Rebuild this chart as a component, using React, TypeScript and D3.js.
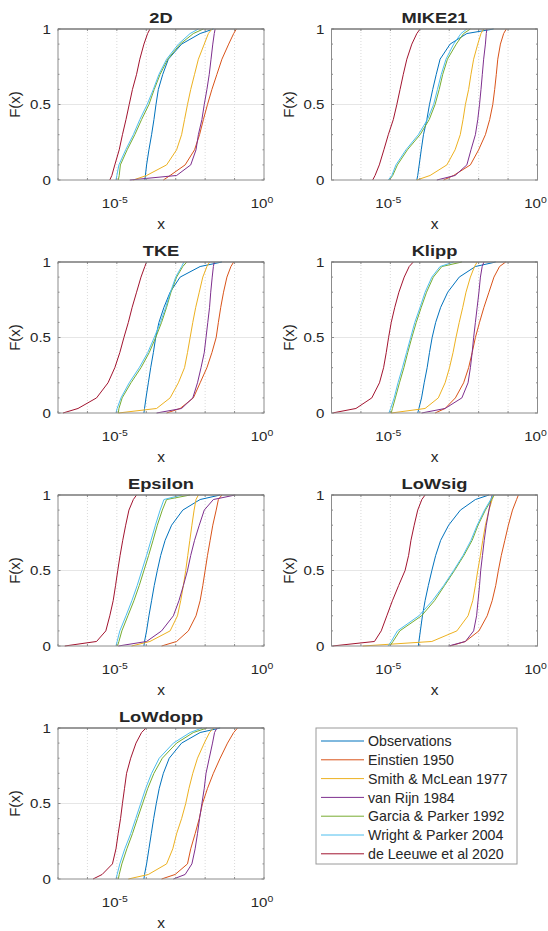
import React from "react";
import * as d3 from "d3";

// ---------- data ----------
const LEVELS = [0, 0.03, 0.1, 0.2, 0.3, 0.4, 0.5, 0.6, 0.7, 0.8, 0.9, 0.97, 1];

const SERIES = [
  "Observations",
  "Einstien 1950",
  "Smith & McLean 1977",
  "van Rijn 1984",
  "Garcia & Parker 1992",
  "Wright & Parker 2004",
  "de Leeuwe et al 2020",
];
const COLORS = ["#0072BD", "#D95319", "#EDB120", "#7E2F8E", "#77AC30", "#4DBEEE", "#A2142F"];

const PANELS = ["2D", "MIKE21", "TKE", "Klipp", "Epsilon", "LoWsig", "LoWdopp"];

// log10(x) at each level in LEVELS, series order as SERIES
const D_2D = [
  [-4.05, -4.03, -3.99, -3.91, -3.82, -3.74, -3.67, -3.59, -3.44, -3.25, -2.8, -2.17, -1.72],
  [-3.42, -3.19, -2.68, -2.36, -2.19, -2.06, -1.92, -1.77, -1.6, -1.43, -1.2, -1.03, -0.94],
  [-4.44, -3.99, -3.31, -2.97, -2.8, -2.7, -2.6, -2.49, -2.36, -2.23, -2.03, -1.89, -1.77],
  [-4.56, -2.97, -2.49, -2.31, -2.23, -2.11, -2.03, -1.94, -1.86, -1.8, -1.74, -1.69, -1.66],
  [-4.95, -4.92, -4.88, -4.65, -4.39, -4.16, -3.91, -3.73, -3.53, -3.27, -2.85, -2.4, -2.06],
  [-5.03, -5.0, -4.93, -4.7, -4.44, -4.22, -3.97, -3.76, -3.57, -3.31, -2.91, -2.51, -2.23],
  [-5.24, -5.17, -5.07, -4.92, -4.81, -4.69, -4.58, -4.47, -4.33, -4.22, -4.08, -3.955, -3.875],
];
const D_MIKE21 = [
  [-4.1, -4.07, -4.02, -3.95, -3.875, -3.76, -3.67, -3.56, -3.44, -3.31, -2.97, -2.4, -1.49],
  [-3.19, -2.85, -2.28, -2.0, -1.77, -1.625, -1.52, -1.455, -1.4, -1.35, -1.26, -1.15, -1.06],
  [-4.1, -3.65, -3.08, -2.8, -2.625, -2.53, -2.45, -2.34, -2.26, -2.17, -2.03, -1.92, -1.83],
  [-3.42, -2.8, -2.4, -2.26, -2.11, -2.03, -1.97, -1.92, -1.875, -1.83, -1.77, -1.74, -1.72],
  [-5.03, -4.92, -4.76, -4.42, -3.99, -3.68, -3.48, -3.34, -3.22, -3.06, -2.76, -2.51, -2.28],
  [-5.07, -4.95, -4.81, -4.47, -4.05, -3.74, -3.53, -3.4, -3.27, -3.11, -2.85, -2.6, -2.4],
  [-5.6, -5.52, -5.375, -5.22, -5.07, -4.9, -4.78, -4.67, -4.56, -4.44, -4.27, -4.1, -3.99],
];
const D_TKE = [
  [-4.08, -4.06, -4.01, -3.93, -3.85, -3.76, -3.68, -3.57, -3.4, -3.19, -2.85, -2.17, -1.43],
  [-3.31, -2.85, -2.4, -2.17, -1.94, -1.77, -1.625, -1.55, -1.47, -1.375, -1.26, -1.125, -1.03],
  [-4.95, -3.65, -3.19, -2.91, -2.7, -2.6, -2.51, -2.42, -2.32, -2.2, -2.08, -1.94, -1.85],
  [-3.65, -2.8, -2.42, -2.26, -2.14, -2.03, -1.97, -1.91, -1.85, -1.81, -1.76, -1.72, -1.69],
  [-4.95, -4.93, -4.82, -4.52, -4.18, -3.9, -3.68, -3.48, -3.31, -3.16, -2.97, -2.76, -2.625],
  [-5.03, -4.99, -4.86, -4.58, -4.24, -3.95, -3.73, -3.52, -3.34, -3.18, -3.0, -2.8, -2.72],
  [-6.83, -6.32, -5.69, -5.3, -5.07, -4.9, -4.76, -4.61, -4.48, -4.33, -4.18, -4.05, -3.99],
];
const D_KLIPP = [
  [-4.07, -4.03, -3.94, -3.85, -3.75, -3.67, -3.58, -3.46, -3.29, -3.05, -2.66, -2.11, -1.42],
  [-3.48, -3.14, -2.79, -2.51, -2.34, -2.22, -2.11, -1.97, -1.82, -1.65, -1.48, -1.29, -1.08],
  [-4.97, -3.82, -3.37, -3.14, -2.99, -2.87, -2.77, -2.66, -2.54, -2.43, -2.28, -2.14, -2.05],
  [-3.94, -3.14, -2.57, -2.36, -2.28, -2.22, -2.17, -2.11, -2.05, -1.99, -1.94, -1.88, -1.82],
  [-4.97, -4.93, -4.83, -4.69, -4.54, -4.41, -4.27, -4.12, -3.95, -3.77, -3.54, -3.25, -2.57],
  [-5.05, -4.99, -4.87, -4.74, -4.59, -4.45, -4.31, -4.17, -3.99, -3.82, -3.59, -3.31, -2.85],
  [-6.97, -6.17, -5.63, -5.37, -5.23, -5.14, -5.06, -4.97, -4.85, -4.71, -4.53, -4.36, -4.22],
];
const D_EPSILON = [
  [-4.08, -4.06, -3.99, -3.91, -3.82, -3.73, -3.625, -3.51, -3.36, -3.14, -2.76, -2.17, -1.49],
  [-3.48, -2.97, -2.57, -2.31, -2.17, -2.08, -2.0, -1.92, -1.83, -1.74, -1.625, -1.55, -1.43],
  [-4.5, -3.875, -3.19, -2.94, -2.83, -2.74, -2.66, -2.59, -2.52, -2.45, -2.375, -2.31, -2.23],
  [-4.95, -3.99, -3.48, -3.08, -2.89, -2.74, -2.6, -2.49, -2.36, -2.2, -2.03, -1.72, -0.98],
  [-4.98, -4.93, -4.83, -4.625, -4.42, -4.24, -4.08, -3.92, -3.77, -3.625, -3.455, -3.31, -2.51],
  [-5.03, -4.99, -4.9, -4.69, -4.49, -4.31, -4.15, -3.99, -3.84, -3.69, -3.53, -3.4, -2.8],
  [-6.77, -5.69, -5.375, -5.24, -5.125, -5.045, -4.97, -4.89, -4.8, -4.7, -4.59, -4.44, -4.33],
];
const D_LOWSIG = [
  [-4.05, -4.03, -3.98, -3.91, -3.82, -3.71, -3.59, -3.46, -3.29, -3.02, -2.62, -2.11, -1.65],
  [-2.97, -2.45, -1.99, -1.71, -1.54, -1.42, -1.33, -1.23, -1.11, -0.99, -0.85, -0.71, -0.65],
  [-5.94, -3.59, -2.74, -2.36, -2.2, -2.11, -2.03, -1.94, -1.86, -1.77, -1.65, -1.54, -1.48],
  [-3.02, -2.45, -2.17, -2.07, -2.02, -1.97, -1.93, -1.87, -1.81, -1.74, -1.65, -1.58, -1.54],
  [-5.02, -4.91, -4.68, -3.94, -3.5, -3.16, -2.82, -2.5, -2.22, -2.02, -1.77, -1.56, -1.48],
  [-5.08, -4.97, -4.76, -4.03, -3.57, -3.19, -2.85, -2.53, -2.26, -2.05, -1.8, -1.59, -1.51],
  [-6.97, -5.54, -5.31, -5.12, -4.93, -4.72, -4.5, -4.38, -4.3, -4.19, -4.07, -3.93, -3.82],
];
const D_LOWDOPP = [
  [-4.08, -4.06, -3.99, -3.91, -3.83, -3.75, -3.66, -3.56, -3.42, -3.22, -2.8, -2.17, -1.49],
  [-3.48, -3.02, -2.6, -2.49, -2.34, -2.2, -2.09, -1.92, -1.72, -1.49, -1.24, -1.03, -0.9],
  [-4.61, -3.93, -3.31, -3.1, -2.97, -2.8, -2.66, -2.55, -2.42, -2.26, -2.03, -1.85, -1.72],
  [-3.08, -2.68, -2.45, -2.34, -2.26, -2.19, -2.11, -2.03, -1.97, -1.86, -1.75, -1.68, -1.6],
  [-4.95, -4.92, -4.83, -4.66, -4.47, -4.3, -4.125, -3.95, -3.74, -3.455, -2.97, -2.4, -1.94],
  [-5.03, -4.99, -4.9, -4.73, -4.53, -4.36, -4.19, -4.02, -3.82, -3.56, -3.08, -2.51, -2.11],
  [-5.81, -5.5, -5.15, -5.03, -4.955, -4.875, -4.81, -4.74, -4.67, -4.53, -4.35, -4.16, -4.01],
];
const PANEL_DATA = [D_2D, D_MIKE21, D_TKE, D_KLIPP, D_EPSILON, D_LOWSIG, D_LOWDOPP];

const X_DOMAIN = [1e-7, 1];
const X_LABELED = [-5, 0];
const Y_TICKS = [0, 0.5, 1];

// ---------- layout ----------
const W = 548;
const H = 931;
const COL_X = [58, 331.5];
const ROW_Y = [29, 262, 495, 728];
const PW = 206;
const PH = 151;
const FONT = "'Liberation Sans', Arial, Helvetica, sans-serif";
const TEXT = "#262626";
const AXIS = "#8c8c8c";
const SX = 1.16; // horizontal text stretch seen in the reference

function Panel({ idx }: { idx: number }) {
  const x0 = COL_X[idx % 2];
  const y0 = ROW_Y[Math.floor(idx / 2)];
  const xs = d3.scaleLog().domain(X_DOMAIN).range([0, PW]);
  const ys = d3.scaleLinear().domain([0, 1]).range([PH, 0]);
  const line = d3
    .line<[number, number]>()
    .x((d) => xs(Math.pow(10, d[0])))
    .y((d) => ys(d[1]));
  const decades = d3.range(-6, 0).map((e) => Math.pow(10, e));
  const allDecades = d3.range(-7, 1).map((e) => Math.pow(10, e));
  const minor = d3.range(0, 11).map((i) => i / 10);
  const clipId = `clip${idx}`;
  const data = PANEL_DATA[idx];
  return (
    <g transform={`translate(${x0},${y0})`}>
      <defs>
        <clipPath id={clipId}>
          <rect x={-1} y={-1} width={PW + 2} height={PH + 2} />
        </clipPath>
      </defs>
      <rect x={0} y={0} width={PW} height={PH} fill="#fff" />
      {/* grid */}
      {decades.map((d, i) => (
        <line key={"gx" + i} x1={xs(d)} x2={xs(d)} y1={0} y2={PH} stroke="#d0d0d0" strokeWidth={0.8} strokeDasharray="1,2" />
      ))}
      <line x1={0} x2={PW} y1={ys(0.5)} y2={ys(0.5)} stroke="#e0e0e0" strokeWidth={0.8} />
      {/* curves */}
      <g clipPath={`url(#${clipId})`}>
        {data.map((s, si) => (
          <path
            key={si}
            d={line(s.map((v, k) => [v, LEVELS[k]] as [number, number])) || ""}
            fill="none"
            stroke={COLORS[si]}
            strokeWidth={1}
          />
        ))}
      </g>
      {/* ticks */}
      {minor.map((m, i) => {
        const len = i % 5 === 0 ? 2.5 : 1.5;
        return (
          <g key={"yt" + i}>
            <line x1={0} x2={len} y1={ys(m)} y2={ys(m)} stroke={AXIS} />
            <line x1={PW} x2={PW - len} y1={ys(m)} y2={ys(m)} stroke={AXIS} />
          </g>
        );
      })}
      {allDecades.map((d, i) => (
        <g key={"xt" + i}>
          <line x1={xs(d)} x2={xs(d)} y1={PH} y2={PH - 2} stroke={AXIS} />
          <line x1={xs(d)} x2={xs(d)} y1={0} y2={2} stroke={AXIS} />
        </g>
      ))}
      {/* box */}
      <rect x={0} y={0} width={PW} height={PH} fill="none" stroke={AXIS} strokeWidth={1} />
      <line x1={0} x2={PW} y1={0} y2={0} stroke="#6e6e6e" strokeWidth={1.2} />
      {/* y tick labels */}
      {Y_TICKS.map((t) => (
        <text
          key={"yl" + t}
          transform={`translate(${-7},${ys(t)}) scale(${SX},1)`}
          dy="0.35em"
          textAnchor="end"
          fontSize={13}
          fill={TEXT}
          fontFamily={FONT}
        >
          {t}
        </text>
      ))}
      {/* x tick labels */}
      {X_LABELED.map((e) => (
        <text
          key={"xl" + e}
          transform={`translate(${xs(Math.pow(10, e)) - 2},${PH + 28}) scale(${SX},1)`}
          textAnchor="middle"
          fontSize={13}
          fill={TEXT}
          fontFamily={FONT}
        >
          <tspan>10</tspan>
          <tspan dy={-5} fontSize={9}>{String(e)}</tspan>
        </text>
      ))}
      {/* labels */}
      <text x={PW / 2} y={PH + 49} textAnchor="middle" fontSize={15.5} fill={TEXT} fontFamily={FONT}>
        x
      </text>
      <text
        transform={`translate(${-38},${PH / 2}) rotate(-90)`}
        textAnchor="middle"
        fontSize={15}
        fill={TEXT}
        fontFamily={FONT}
      >
        F(x)
      </text>
      <text
        transform={`translate(${PW / 2},${-6}) scale(1.18,1)`}
        textAnchor="middle"
        fontSize={15.5}
        fontWeight="bold"
        fill={TEXT}
        fontFamily={FONT}
      >
        {PANELS[idx]}
      </text>
    </g>
  );
}

function Legend() {
  const lx = 316;
  const ly = 728;
  const lw = 201;
  const lh = 136;
  const rowH = 18.8;
  return (
    <g transform={`translate(${lx},${ly})`}>
      <rect x={0} y={0} width={lw} height={lh} fill="#fff" stroke="#9a9a9a" strokeWidth={1} />
      {SERIES.map((s, i) => {
        const cy = 13 + i * rowH;
        return (
          <g key={s}>
            <line x1={5} x2={48} y1={cy} y2={cy} stroke={COLORS[i]} strokeWidth={1} />
            <text x={52} y={cy} dy="0.36em" fontSize={14.2} fill={TEXT} fontFamily={FONT}>
              {s}
            </text>
          </g>
        );
      })}
    </g>
  );
}

export default function App() {
  return (
    <svg
      width={W}
      height={H}
      viewBox={`0 0 ${W} ${H}`}
      style={{ position: "absolute", left: 0, top: 0, background: "#fff" }}
    >
      <rect x={0} y={0} width={W} height={H} fill="#fff" />
      {PANELS.map((p, i) => (
        <Panel key={p} idx={i} />
      ))}
      <Legend />
    </svg>
  );
}
